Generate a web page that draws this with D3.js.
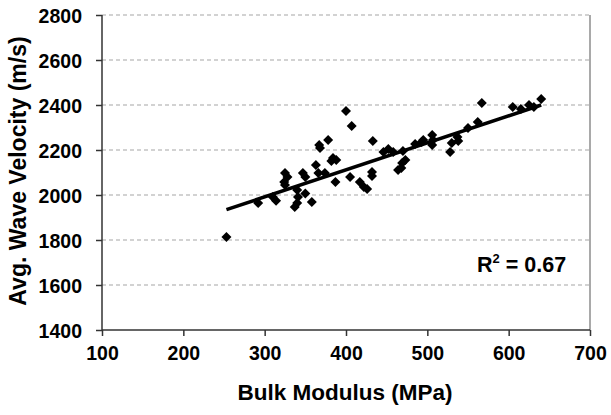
<!DOCTYPE html>
<html>
<head>
<meta charset="utf-8">
<script src="https://cdn.jsdelivr.net/npm/d3@7"></script>
<style>
  html, body { margin: 0; padding: 0; background: #fff; }
  svg { display: block; }
  text { font-family: "Liberation Sans", Arial, sans-serif; font-weight: bold; fill: #000; }
</style>
</head>
<body>
<svg id="chart" width="611" height="415"></svg>
<script>
// ---- data ----
const bulkModulus = [253, 292, 310, 314, 325, 328, 324, 325, 347, 350, 340, 341, 340, 337, 358, 350,
  363, 367, 368, 378, 384, 388, 382, 374, 366, 387, 400, 407, 405, 417, 422, 426, 433, 432, 432,
  446, 452, 458, 464, 469, 473, 470, 468, 485, 493, 495, 506, 507, 506, 528, 530, 537, 538, 550,
  562, 567, 605, 615, 625, 631, 640];
const waveVelocity = [1813, 1964, 1991, 1975, 2098, 2080, 2058, 2044, 2098, 2080, 2022, 1991, 1964, 1947, 1969, 2007,
  2133, 2222, 2209, 2244, 2164, 2156, 2151, 2098, 2098, 2058, 2373, 2307, 2080, 2058, 2036, 2027, 2240, 2102, 2084,
  2191, 2204, 2191, 2111, 2142, 2156, 2196, 2120, 2227, 2236, 2244, 2267, 2244, 2222, 2191, 2231, 2258, 2240, 2298,
  2324, 2409, 2391, 2382, 2400, 2391, 2427];
const trendX = [253, 640];
const trendY = [1935, 2400];
const xTicks = [100, 200, 300, 400, 500, 600, 700];
const yTicks = [1400, 1600, 1800, 2000, 2200, 2400, 2600, 2800];
const xTitle = "Bulk Modulus (MPa)";
const yTitle = "Avg. Wave Velocity (m/s)";
const r2Label = "0.67";

// ---- chart ----
const svg = d3.select("#chart");
const x = d3.scaleLinear().domain([100, 700]).range([102, 590]);
const y = d3.scaleLinear().domain([1400, 2800]).range([330, 15]);

// gridlines
svg.append("g").selectAll("line")
  .data(yTicks.filter(d => d > 1400))
  .join("line")
  .attr("x1", x(100)).attr("x2", x(700))
  .attr("y1", d => y(d)).attr("y2", d => y(d))
  .attr("stroke", "#a6a6a6").attr("stroke-width", 1.2)
  .attr("stroke-dasharray", "4,3");

// right border
svg.append("line")
  .attr("x1", x(700)).attr("x2", x(700))
  .attr("y1", y(2800)).attr("y2", y(1400))
  .attr("stroke", "#8c8c8c").attr("stroke-width", 1.5);

// axes
const xAxis = d3.axisBottom(x).tickValues(xTicks).tickFormat(d3.format("d")).tickSize(6).tickPadding(6);
const yAxis = d3.axisLeft(y).tickValues(yTicks).tickFormat(d3.format("d")).tickSize(6).tickPadding(14);

const gx = svg.append("g").attr("transform", `translate(0,${y(1400)})`).call(xAxis);
const gy = svg.append("g").attr("transform", `translate(${x(100)},0)`).call(yAxis);
[gx, gy].forEach(g => {
  g.select(".domain").attr("stroke", "#333").attr("stroke-width", 1.5);
  g.selectAll(".tick line").attr("stroke", "#333").attr("stroke-width", 1.5);
  g.selectAll(".tick text").attr("font-size", 19.5).attr("font-family", "Liberation Sans, Arial, sans-serif")
    .attr("font-weight", "bold").attr("fill", "#000");
});
gx.select(".domain").attr("d", `M${x(100)},0H${x(700)}`);
gy.select(".domain").attr("d", `M0,${y(1400)}V${y(2800)}`);
gy.selectAll(".tick text").attr("dy", "0.36em");
gx.selectAll(".tick text").attr("dy", "0.9em");

// trendline
svg.append("line")
  .attr("x1", x(trendX[0])).attr("y1", y(trendY[0]))
  .attr("x2", x(trendX[1])).attr("y2", y(trendY[1]))
  .attr("stroke", "#000").attr("stroke-width", 3.5);

// points (diamonds)
const pts = bulkModulus.map((b, i) => [b, waveVelocity[i]]);
svg.append("g").selectAll("path")
  .data(pts)
  .join("path")
  .attr("transform", d => `translate(${x(d[0])},${y(d[1])})`)
  .attr("d", "M0,-5L5,0L0,5L-5,0Z")
  .attr("fill", "#000");

// titles
svg.append("text")
  .attr("x", 345).attr("y", 400)
  .attr("text-anchor", "middle")
  .attr("font-size", 22.5)
  .text(xTitle);

svg.append("text")
  .attr("transform", "translate(26,171) rotate(-90)")
  .attr("text-anchor", "middle")
  .attr("font-size", 23)
  .text(yTitle);

// R^2 label
const r2 = svg.append("text").attr("x", 477).attr("y", 272).attr("font-size", 21.5);
r2.append("tspan").text("R");
r2.append("tspan").attr("font-size", 13).attr("dy", -9).text("2");
r2.append("tspan").attr("dy", 9).text(" = " + r2Label);
</script>
</body>
</html>
